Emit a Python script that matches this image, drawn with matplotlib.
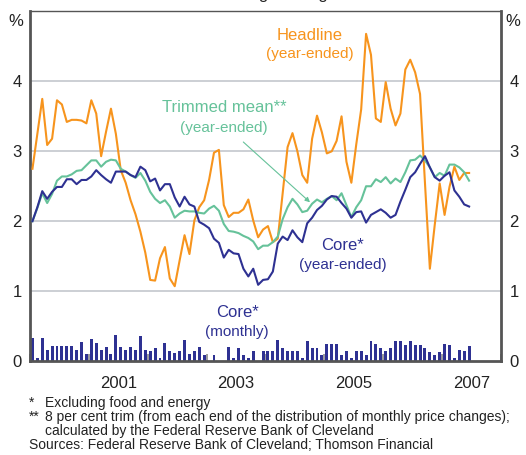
import numpy as np
import matplotlib
matplotlib.use('Agg')
import matplotlib.pyplot as plt
from matplotlib.ticker import FixedLocator, FixedFormatter, NullFormatter

plt.rcParams['font.family'] = ['Liberation Sans', 'DejaVu Sans']

# ---------------- data (monthly, Jan 2000 - Jun 2007) ----------------
start_year = 2000
headline = [2.75, 3.25, 3.75, 3.09, 3.18, 3.73, 3.67, 3.42, 3.45, 3.45,
            3.44, 3.40, 3.73, 3.54, 2.93, 3.28, 3.61, 3.25, 2.73, 2.55,
            2.30, 2.10, 1.85, 1.55, 1.16, 1.15, 1.47, 1.63, 1.18, 1.07,
            1.44, 1.80, 1.53, 2.01, 2.20, 2.30, 2.59, 2.98, 3.02, 2.23,
            2.06, 2.12, 2.12, 2.17, 2.31, 2.01, 1.77, 1.88, 1.93, 1.70,
            1.75, 2.40, 3.06, 3.26, 3.00, 2.66, 2.55, 3.18, 3.51, 3.27,
            2.97, 3.00, 3.15, 3.50, 2.85, 2.55, 3.10, 3.60, 4.68, 4.38,
            3.47, 3.42, 3.99, 3.61, 3.37, 3.54, 4.17, 4.31, 4.13, 3.82,
            2.55, 1.32, 1.95, 2.54, 2.09, 2.49, 2.78, 2.59, 2.69, 2.69]
core = [2.00, 2.20, 2.43, 2.32, 2.42, 2.49, 2.49, 2.60, 2.60, 2.53,
        2.59, 2.59, 2.64, 2.73, 2.66, 2.60, 2.55, 2.71, 2.71, 2.71,
        2.66, 2.63, 2.78, 2.73, 2.57, 2.61, 2.44, 2.53, 2.53, 2.34,
        2.21, 2.35, 2.24, 2.21, 1.99, 1.95, 1.90, 1.75, 1.69, 1.48,
        1.59, 1.54, 1.53, 1.32, 1.21, 1.32, 1.09, 1.16, 1.17, 1.28,
        1.68, 1.78, 1.73, 1.87, 1.77, 1.70, 1.97, 2.05, 2.16, 2.22,
        2.31, 2.36, 2.35, 2.26, 2.18, 2.05, 2.13, 2.14, 1.98, 2.09,
        2.13, 2.17, 2.12, 2.05, 2.09, 2.28, 2.45, 2.63, 2.70, 2.82,
        2.93, 2.77, 2.63, 2.58, 2.65, 2.70, 2.44, 2.35, 2.24, 2.21]
trimmed = [2.00, 2.19, 2.40, 2.26, 2.39, 2.58, 2.64, 2.64, 2.67, 2.72,
           2.73, 2.80, 2.87, 2.87, 2.78, 2.85, 2.88, 2.87, 2.75, 2.71,
           2.66, 2.62, 2.69, 2.58, 2.42, 2.32, 2.26, 2.30, 2.21, 2.05,
           2.11, 2.15, 2.14, 2.14, 2.12, 2.11, 2.18, 2.22, 2.15, 1.96,
           1.86, 1.85, 1.83, 1.79, 1.76, 1.71, 1.60, 1.65, 1.65, 1.70,
           1.78, 2.03, 2.20, 2.32, 2.24, 2.13, 2.15, 2.25, 2.31, 2.27,
           2.32, 2.36, 2.30, 2.40, 2.23, 2.06, 2.20, 2.30, 2.50, 2.50,
           2.60, 2.56, 2.63, 2.54, 2.61, 2.56, 2.70, 2.87, 2.88, 2.94,
           2.87, 2.77, 2.63, 2.69, 2.65, 2.81, 2.81, 2.77, 2.70, 2.58]
core_monthly = [0.33, 0.04, 0.33, 0.16, 0.21, 0.21, 0.21, 0.21, 0.21, 0.16,
                0.27, 0.10, 0.31, 0.26, 0.16, 0.20, 0.10, 0.37, 0.20, 0.16,
                0.20, 0.16, 0.36, 0.16, 0.14, 0.19, 0.04, 0.26, 0.14, 0.11,
                0.14, 0.30, 0.10, 0.14, 0.20, 0.09, 0.00, 0.09, 0.00, 0.00,
                0.20, 0.04, 0.19, 0.09, 0.04, 0.14, 0.00, 0.14, 0.14, 0.14,
                0.30, 0.19, 0.14, 0.14, 0.14, 0.04, 0.29, 0.19, 0.19, 0.09,
                0.24, 0.24, 0.24, 0.09, 0.14, 0.04, 0.14, 0.14, 0.09, 0.29,
                0.24, 0.19, 0.14, 0.19, 0.29, 0.29, 0.23, 0.29, 0.23, 0.23,
                0.19, 0.13, 0.09, 0.13, 0.24, 0.23, 0.04, 0.16, 0.14, 0.21]
y_ticks = [0, 1, 2, 3, 4]
x_labels = ['2001', '2003', '2005', '2007']
x_label_pos = [2001.5, 2003.5, 2005.5, 2007.5]
year_ticks = list(range(2000, 2009))

footnotes = [
    ('*', 'Excluding food and energy'),
    ('**', '8 per cent trim (from each end of the distribution of monthly price changes);'),
    ('', 'calculated by the Federal Reserve Bank of Cleveland'),
]
sources = 'Sources: Federal Reserve Bank of Cleveland; Thomson Financial'

# ---------------- styling ----------------
ORANGE = '#F7941D'
GREEN = '#66C29A'
NAVY = '#2E3192'
GRID = '#C4C7CD'
SPINE = '#555555'
TXT = '#222222'

W, H = 526, 455
fig = plt.figure(figsize=(W / 100, H / 100), dpi=100)
ax = fig.add_axes([30 / W, 1 - 361 / H, 471 / W, 349.5 / H])
ax.set_xlim(2000, 2008)
ax.set_ylim(0, 5)

t = start_year + (np.arange(len(headline)) + 0.5) / 12

for v in y_ticks[1:]:
    ax.axhline(v, color=GRID, lw=1.2, zorder=0)

ax.bar(t, core_monthly, width=0.6 / 12, color=NAVY, zorder=2)
ax.plot(t, headline, color=ORANGE, lw=1.5, zorder=3)
ax.plot(t, trimmed, color=GREEN, lw=1.5, zorder=4)
ax.plot(t, core, color=NAVY, lw=1.5, zorder=5)

# spines
for s in ['left', 'right', 'bottom']:
    ax.spines[s].set_color(SPINE)
    ax.spines[s].set_linewidth(2)
ax.spines['top'].set_color(SPINE)
ax.spines['top'].set_linewidth(1)

# y ticks both sides
ax.set_yticks(y_ticks)
ax.set_yticklabels([str(v) for v in y_ticks])
ax.tick_params(axis='y', which='both', length=0, labelsize=12, pad=6,
               left=True, right=True, labelleft=True, labelright=True,
               labelcolor=TXT)

# x: year ticks inward, labels at mid-year
ax.xaxis.set_major_locator(FixedLocator(year_ticks))
ax.xaxis.set_major_formatter(NullFormatter())
ax.xaxis.set_minor_locator(FixedLocator(x_label_pos))
ax.xaxis.set_minor_formatter(FixedFormatter(x_labels))
ax.tick_params(axis='x', which='major', direction='in', length=5,
               width=1.2, color='#8a8a8a')
ax.tick_params(axis='x', which='minor', length=0, labelsize=12, pad=11,
               labelcolor=TXT)

# % labels
fig.text(16 / W, 1 - 21 / H, '%', fontsize=12, ha='center', va='center', color=TXT)
fig.text(513 / W, 1 - 21 / H, '%', fontsize=12, ha='center', va='center', color=TXT)

# title, cut off by the top edge as in the reference
fig.text(265 / W, 1 + 1.2 / H, 'Percentage change', fontsize=12,
         ha='center', va='baseline', color=TXT)

# series labels
ax.text(2004.756, 4.657, 'Headline', color=ORANGE, fontsize=12, ha='center', va='center')
ax.text(2004.756, 4.386, '(year-ended)', color=ORANGE, fontsize=11, ha='center', va='center')
ax.text(2003.295, 3.629, 'Trimmed mean**', color=GREEN, fontsize=12, ha='center', va='center')
ax.text(2003.295, 3.329, '(year-ended)', color=GREEN, fontsize=11, ha='center', va='center')
ax.text(2005.316, 1.657, 'Core*', color=NAVY, fontsize=12, ha='center', va='center')
ax.text(2005.316, 1.371, '(year-ended)', color=NAVY, fontsize=11, ha='center', va='center')
ax.text(2003.516, 0.70, 'Core*', color=NAVY, fontsize=12, ha='center', va='center')
ax.text(2003.516, 0.414, '(monthly)', color=NAVY, fontsize=11, ha='center', va='center')

ax.annotate('', xy=(2004.756, 2.271), xytext=(2003.623, 3.133),
            arrowprops=dict(arrowstyle='-|>', color=GREEN, lw=0.8,
                            mutation_scale=7, shrinkA=0, shrinkB=0), zorder=6)

# footnotes
FS = 10
ys = [403, 417, 431]
for (mark, txt), y in zip(footnotes, ys):
    if mark:
        fig.text(29 / W, 1 - y / H, mark, fontsize=FS, ha='left', va='center', color=TXT)
    fig.text(45 / W, 1 - y / H, txt, fontsize=FS, ha='left', va='center', color=TXT)
fig.text(29 / W, 1 - 445 / H, sources, fontsize=FS, ha='left', va='center', color=TXT)

fig.savefig('out.png', dpi=100)
